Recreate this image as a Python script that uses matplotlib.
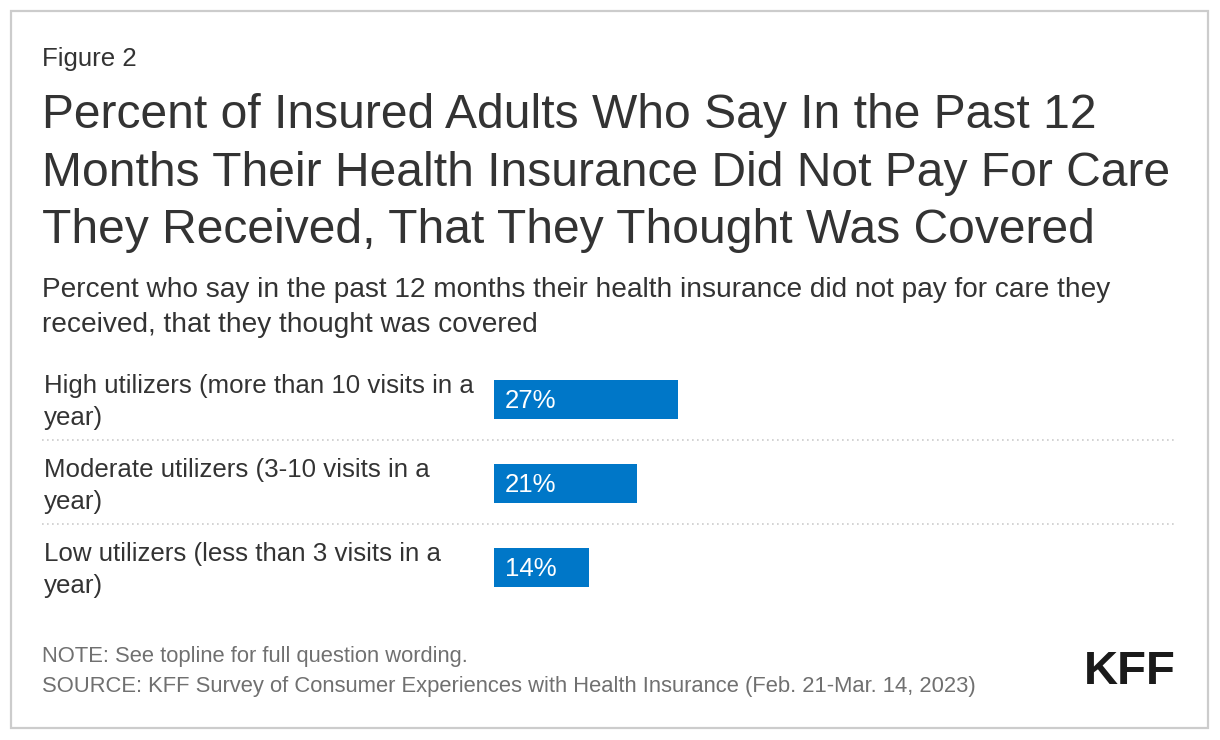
import matplotlib.pyplot as plt
from matplotlib.lines import Line2D
from matplotlib.patches import Rectangle

plt.rcParams['font.family'] = ['Liberation Sans', 'DejaVu Sans']

# data
categories = [['High utilizers (more than 10 visits in a', 'year)'],
              ['Moderate utilizers (3-10 visits in a', 'year)'],
              ['Low utilizers (less than 3 visits in a', 'year)']]
values = [27, 21, 14]

title_lines = ['Percent of Insured Adults Who Say In the Past 12',
               'Months Their Health Insurance Did Not Pay For Care',
               'They Received, That They Thought Was Covered']
subtitle_lines = ['Percent who say in the past 12 months their health insurance did not pay for care they',
                  'received, that they thought was covered']
note = 'NOTE: See topline for full question wording.'
source = 'SOURCE: KFF Survey of Consumer Experiences with Health Insurance (Feb. 21-Mar. 14, 2023)'

W, H = 1220, 740
BLUE = '#0077c8'
TEXT = '#333333'
GRAY = '#707070'


def fx(x):
    return x / W


def fy(y):
    return 1 - y / H


fig = plt.figure(figsize=(W / 100, H / 100), dpi=100)
fig.patch.set_facecolor('white')

# outer border
fig.add_artist(Rectangle((fx(11), fy(728)), fx(1197), 717 / H, transform=fig.transFigure,
                         fill=False, edgecolor='#cccccc', linewidth=1.6))

# header text
fig.text(fx(42), fy(66), 'Figure 2', fontsize=18.6, color=TEXT, va='baseline')
for i, line in enumerate(title_lines):
    fig.text(fx(42), fy(128 + 57.5 * i), line, fontsize=34.6, color=TEXT, va='baseline')
for i, line in enumerate(subtitle_lines):
    fig.text(fx(42), fy(297 + 35 * i), line, fontsize=20.2, color=TEXT, va='baseline')

# bar chart
ax = fig.add_axes([fx(494), fy(609.5), fx(1176 - 494), 252 / H])
y = list(range(len(values)))
ax.barh(y, values, height=0.465, color=BLUE)
ax.set_xlim(0, 100)
ax.set_ylim(2.5, -0.5)
ax.axis('off')

for yi, v, cat in zip(y, values, categories):
    # value label inside the bar, baseline a bit below bar centre
    ax.text(1.6, yi + 0.1, f'{v}%', color='white', fontsize=18.6, va='baseline', ha='left')
    for j, line in enumerate(cat):
        fig.text(fx(44), fy(393 + 84 * yi + 32 * j), line, fontsize=18.6, color=TEXT,
                 va='baseline', ha='left')

# dotted separators
for yi in y[:-1]:
    ypx = 440 + 84 * yi
    fig.add_artist(Line2D([fx(42), fx(1176)], [fy(ypx), fy(ypx)], transform=fig.transFigure,
                          color='#cccccc', linewidth=1.2, linestyle=(0, (1, 2))))

# footer
fig.text(fx(42), fy(662), note, fontsize=15.8, color=GRAY, va='baseline')
fig.text(fx(42), fy(692), source, fontsize=15.8, color=GRAY, va='baseline')
fig.text(fx(1176), fy(684), 'KFF', fontsize=34, fontweight='bold', color='#1a1a1a',
         va='baseline', ha='right')

fig.savefig('out.png', dpi=100)
